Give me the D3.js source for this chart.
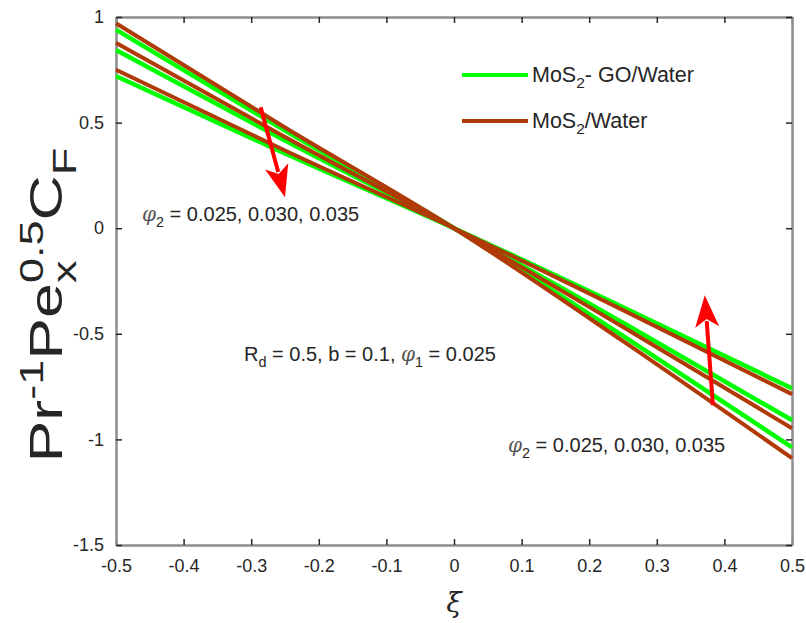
<!DOCTYPE html>
<html>
<head>
<meta charset="utf-8">
<style>
  body { margin: 0; background: #fff; }
  svg { display: block; font-family: "Liberation Sans", Arial, sans-serif; }
  .tick text { font-size: 18px; fill: #262626; }
  .tick line { stroke: #262626; }
  .domain { stroke: #8c8c8c; stroke-width: 2.5; }
</style>
</head>
<body>
<svg id="chart" width="806" height="623"></svg>
<script src="https://d3js.org/d3.v7.min.js"></script>
<script>
// data
var xiValues = [-0.5, -0.25, 0, 0.25, 0.5];
var phi2Values = ["0.025", "0.030", "0.035"];
// MoS2-GO/Water, one row per phi2
var hybrid = [
  [0.94, 0.462, 0, -0.51, -1.037],
  [0.844, 0.415, 0, -0.448, -0.909],
  [0.72, 0.354, 0, -0.374, -0.758]
];
// MoS2/Water, one row per phi2
var mono = [
  [0.97, 0.477, 0, -0.535, -1.089],
  [0.877, 0.432, 0, -0.468, -0.947],
  [0.75, 0.368, 0, -0.388, -0.786]
];
var xTicks = [-0.5, -0.4, -0.3, -0.2, -0.1, 0, 0.1, 0.2, 0.3, 0.4, 0.5];
var yTicks = [-1.5, -1, -0.5, 0, 0.5, 1];
// arrows: [x0, y0, x1, y1] in data units
var arrows = [
  [-0.286, 0.573, -0.25, 0.147],
  [0.383, -0.838, 0.371, -0.317]
];

var green = "#00ff00", brown = "#b03a08";

var svg = d3.select("#chart"),
    plotL = 116, plotR = 792, plotT = 17, plotB = 545;

var x = d3.scaleLinear().domain([-0.5, 0.5]).range([plotL, plotR]);
var y = d3.scaleLinear().domain([-1.5, 1]).range([plotB, plotT]);

function fmt(d) { return String(+d.toFixed(1)); }

// axes with inward ticks, box all round
svg.append("g")
    .attr("transform", "translate(0," + plotB + ")")
    .call(d3.axisBottom(x).tickValues(xTicks).tickSizeInner(-6).tickSizeOuter(0).tickPadding(14).tickFormat(fmt));
svg.append("g")
    .attr("transform", "translate(0," + plotT + ")")
    .call(d3.axisTop(x).tickValues(xTicks).tickSizeInner(-6).tickSizeOuter(0).tickFormat(""));
svg.append("g")
    .attr("transform", "translate(" + plotL + ",0)")
    .call(d3.axisLeft(y).tickValues(yTicks).tickSizeInner(-6).tickSizeOuter(0).tickPadding(12).tickFormat(fmt));
svg.append("g")
    .attr("transform", "translate(" + plotR + ",0)")
    .call(d3.axisRight(y).tickValues(yTicks).tickSizeInner(-6).tickSizeOuter(0).tickFormat(""));
svg.selectAll(".tick line").attr("stroke-width", 1.5);

// curves
var line = d3.line()
    .x(function(d, i) { return x(xiValues[i]); })
    .y(function(d) { return y(d); })
    .curve(d3.curveMonotoneX);

svg.append("g").selectAll("path")
    .data(hybrid)
  .enter().append("path")
    .attr("d", line)
    .attr("fill", "none")
    .attr("stroke", green)
    .attr("stroke-width", 4.5);

svg.append("g").selectAll("path")
    .data(mono)
  .enter().append("path")
    .attr("d", line)
    .attr("fill", "none")
    .attr("stroke", brown)
    .attr("stroke-width", 4);

// red arrows
arrows.forEach(function(a) {
  var x0 = x(a[0]), y0 = y(a[1]), x1 = x(a[2]), y1 = y(a[3]);
  var ang = Math.atan2(y1 - y0, x1 - x0);
  var headLen = 32, headW = 12;
  var bx = x1 - headLen * Math.cos(ang), by = y1 - headLen * Math.sin(ang);
  svg.append("line")
      .attr("x1", x0).attr("y1", y0)
      .attr("x2", bx + 6 * Math.cos(ang)).attr("y2", by + 6 * Math.sin(ang))
      .attr("stroke", "#ff0000").attr("stroke-width", 4);
  var px = -Math.sin(ang), py = Math.cos(ang);
  var ix = x1 - (headLen - 8) * Math.cos(ang), iy = y1 - (headLen - 8) * Math.sin(ang);
  svg.append("path")
      .attr("d", "M" + x1 + "," + y1 +
        "L" + (bx + px * headW) + "," + (by + py * headW) +
        "L" + ix + "," + iy +
        "L" + (bx - px * headW) + "," + (by - py * headW) + "Z")
      .attr("fill", "#ff0000");
});

// rich text helper: parts {t, s:"sup"|"sub", it:true, back:true}
function rich(g, parts, size) {
  var text = g.append("text").attr("font-size", size).attr("fill", "#262626");
  var shift = 0, prevLen = 0;
  parts.forEach(function(p) {
    var target = p.s === "sup" ? -0.42 * size : p.s === "sub" ? 0.3 * size : 0;
    var ts = text.append("tspan")
        .attr("dy", target - shift)
        .attr("font-size", p.s ? size * 0.72 : size)
        .text(p.t);
    if (p.it) ts.attr("font-style", "italic").attr("fill", "#555").attr("font-family", "'DejaVu Serif', serif");
    if (p.back) ts.attr("dx", -prevLen);
    shift = target;
    prevLen = ts.node().getComputedTextLength();
  });
  return text;
}

var phiText = "= " + phi2Values.join(", ");
rich(svg.append("g").attr("transform", "translate(142,221)"),
  [{t: "\u03c6", it: true}, {t: "2", s: "sub"}, {t: " " + phiText}], 20);
rich(svg.append("g").attr("transform", "translate(508,452)"),
  [{t: "\u03c6", it: true}, {t: "2", s: "sub"}, {t: " " + phiText}], 20);
rich(svg.append("g").attr("transform", "translate(244,361)"),
  [{t: "R"}, {t: "d", s: "sub"}, {t: " = 0.5, b = 0.1, "}, {t: "\u03c6", it: true}, {t: "1", s: "sub"}, {t: " = 0.025"}], 20);

// legend
var legend = [
  {color: green, parts: [{t: "MoS"}, {t: "2", s: "sub"}, {t: "- GO/Water"}]},
  {color: brown, parts: [{t: "MoS"}, {t: "2", s: "sub"}, {t: "/Water"}]}
];
legend.forEach(function(l, i) {
  var ly = 75 + i * 46;
  svg.append("line").attr("x1", 462).attr("x2", 528).attr("y1", ly).attr("y2", ly)
      .attr("stroke", l.color).attr("stroke-width", 4);
  rich(svg.append("g").attr("transform", "translate(532," + (ly + 7) + ")"), l.parts, 21.5);
});

// axis labels
svg.append("text")
    .attr("x", (plotL + plotR) / 2).attr("y", 612)
    .attr("text-anchor", "middle")
    .attr("font-size", 28).attr("font-style", "italic")
    .attr("font-family", "'DejaVu Serif', serif")
    .attr("fill", "#262626")
    .text("\u03be");

var ylg = svg.append("g").attr("transform", "translate(62,305) rotate(-90)");
var yl = rich(ylg,
  [{t: "Pr"}, {t: "-1", s: "sup"}, {t: "Pe"}, {t: "x", s: "sub"}, {t: "0.5", s: "sup", back: true}, {t: "C"}, {t: "F", s: "sub"}], 46);
var bb = yl.node().getBBox();
var k = 315 / bb.width;
yl.attr("transform", "scale(" + k + ",1) translate(" + (-bb.width / 2) + ",0)");
</script>
</body>
</html>
